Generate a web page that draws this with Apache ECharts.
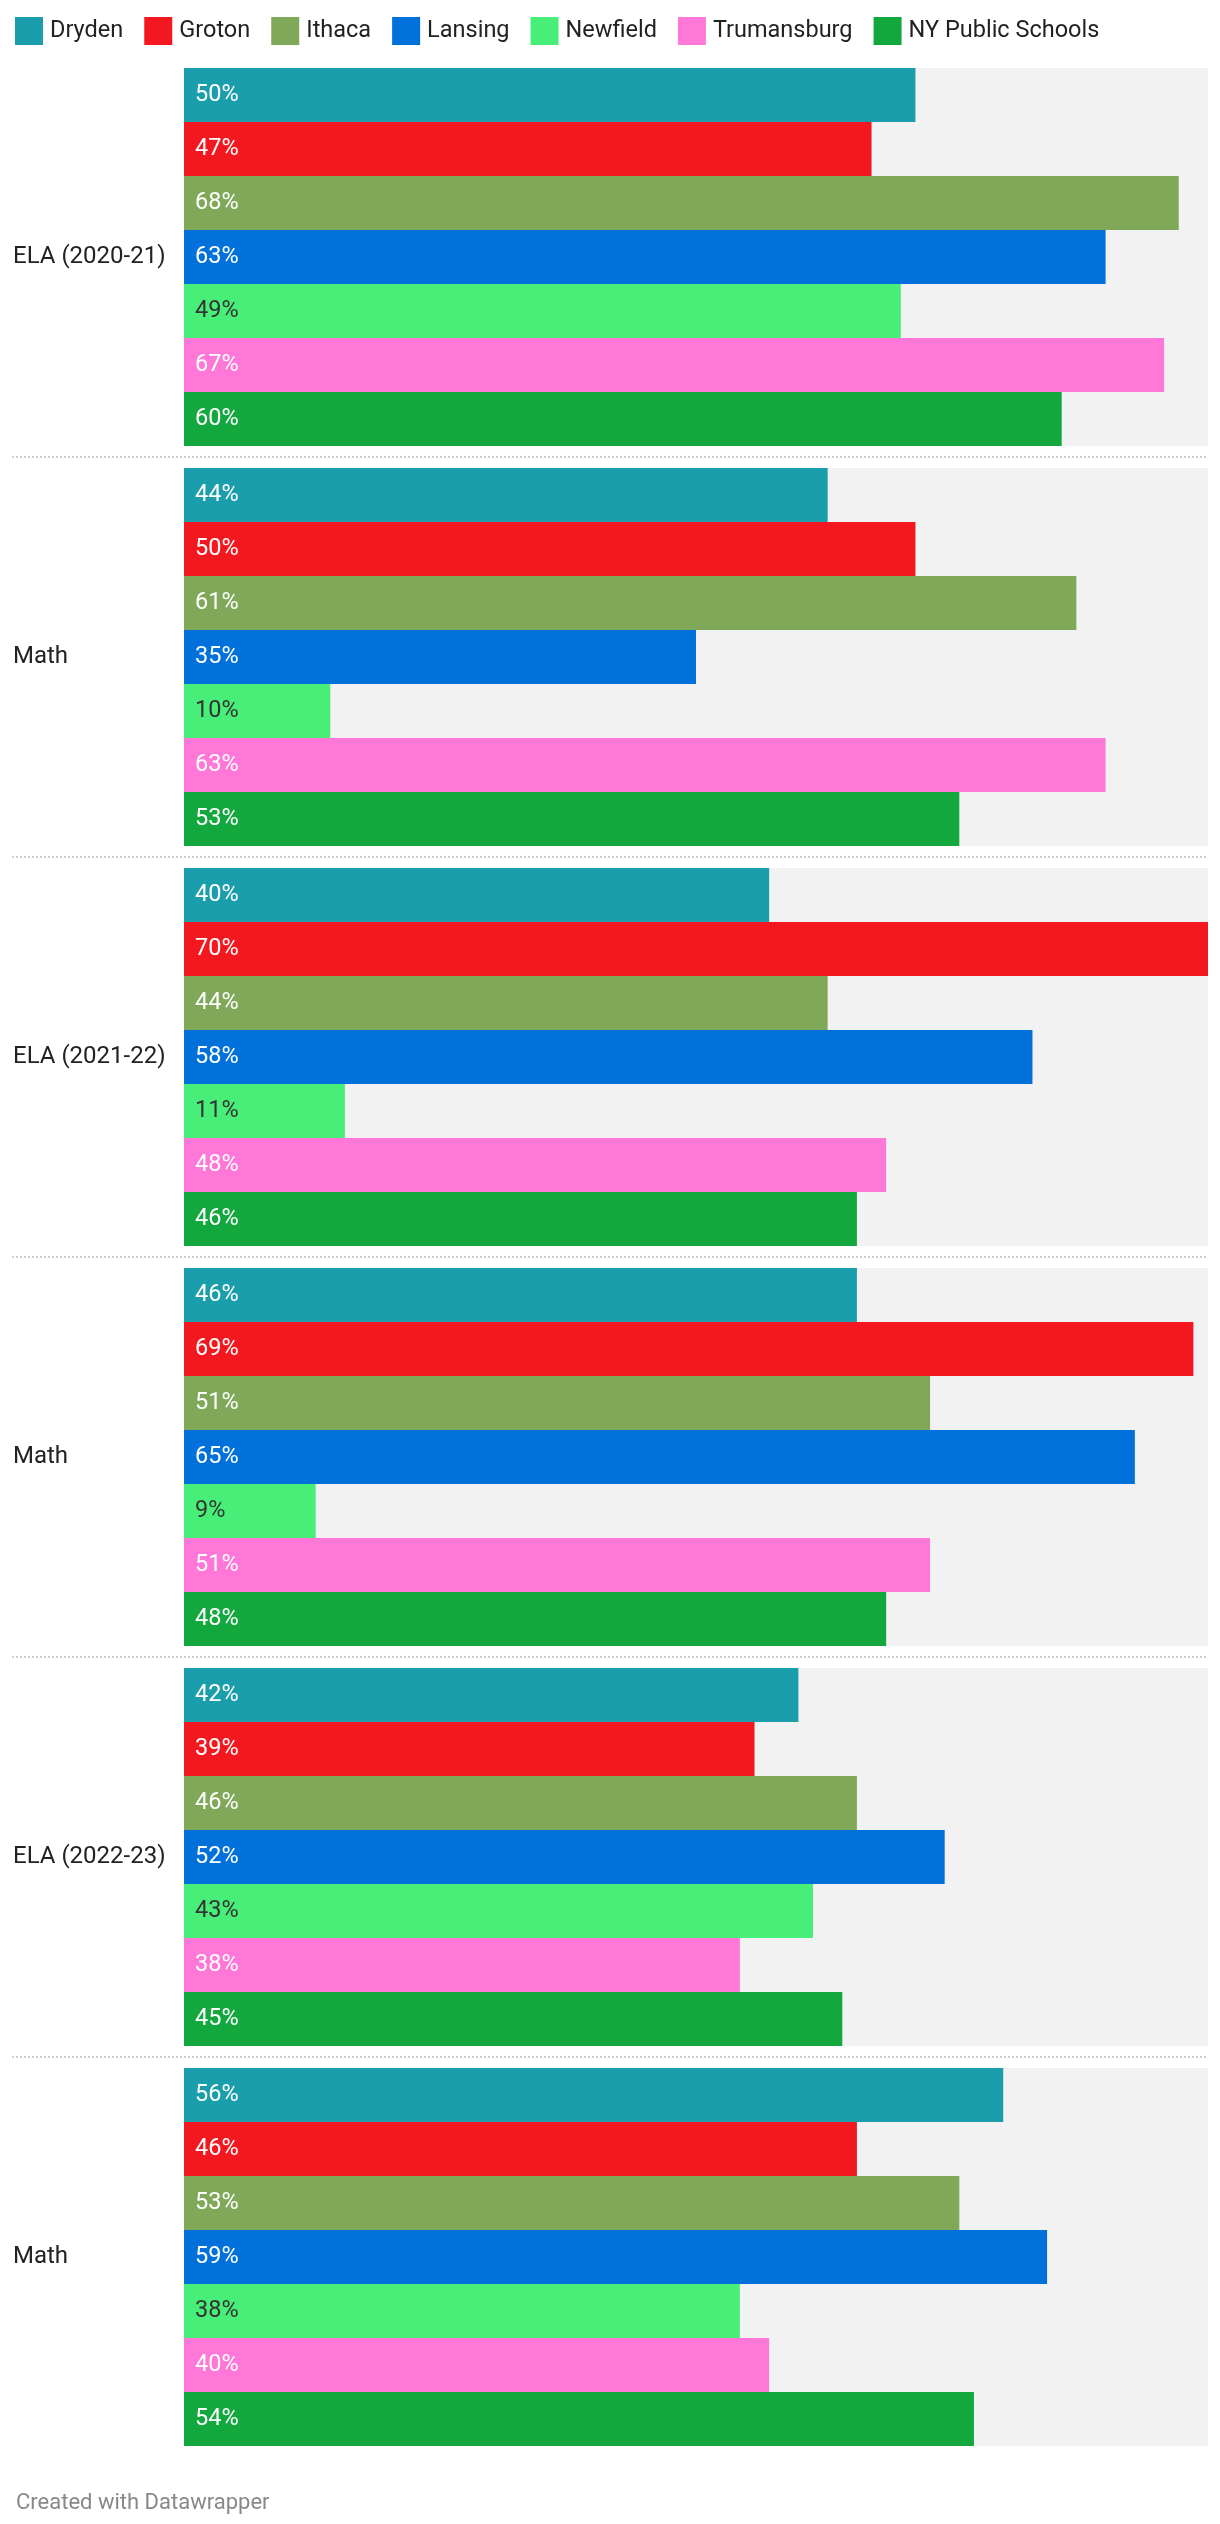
<!DOCTYPE html>
<html>
<head>
<meta charset="utf-8">
<script src="https://cdn.jsdelivr.net/npm/echarts@6/dist/echarts.min.js"></script>
<style>
html,body{margin:0;padding:0;background:#fff;}
#c{width:1220px;height:2524px;}
</style>
</head>
<body>
<div id="c"></div>
<script>
const categories = ["ELA (2020-21)", "Math", "ELA (2021-22)", "Math", "ELA (2022-23)", "Math"];
const seriesNames = ["Dryden", "Groton", "Ithaca", "Lansing", "Newfield", "Trumansburg", "NY Public Schools"];
const dryden = [50, 44, 40, 46, 42, 56];
const groton = [47, 50, 70, 69, 39, 46];
const ithaca = [68, 61, 44, 51, 46, 53];
const lansing = [63, 35, 58, 65, 52, 59];
const newfield = [49, 10, 11, 9, 43, 38];
const trumansburg = [67, 63, 48, 51, 38, 40];
const nyPublic = [60, 53, 46, 48, 45, 54];
const xMax = 70;

const values = [dryden, groton, ithaca, lansing, newfield, trumansburg, nyPublic];
const colors = ["#1a9eab", "#f31820", "#7fa958", "#0071da", "#47ef78", "#ff78d8", "#13a83e"];
const labelColors = ["#fff", "#fff", "#fff", "#fff", "#333", "#fff", "#fff"];
const FONT = "Roboto, 'Noto Sans', sans-serif";

const chart = echarts.init(document.getElementById('c'), null, {renderer: 'canvas'});
const series = seriesNames.map((name, i) => ({
  name: name,
  type: 'bar',
  data: values[i],
  barGap: '0%',
  barCategoryGap: '5.5%',
  itemStyle: {color: colors[i]},
  showBackground: true,
  backgroundStyle: {color: '#f2f2f2'},
  label: {
    show: true,
    position: 'insideLeft',
    distance: 11,
    formatter: '{c}%',
    color: labelColors[i],
    fontFamily: FONT,
    fontSize: 23.5
  },
  emphasis: {disabled: true},
  animation: false
}));

chart.setOption({
  animation: false,
  legend: {
    data: seriesNames,
    left: 10,
    top: 12,
    itemWidth: 28,
    itemHeight: 28,
    itemGap: 21,
    icon: 'rect',
    textStyle: {fontFamily: FONT, fontSize: 23.5, color: '#222', padding: [0, 0, 0, 2]},
    selectedMode: false
  },
  title: {
    text: 'Created with Datawrapper',
    left: 11,
    top: 2487,
    textStyle: {fontFamily: FONT, fontSize: 22, fontWeight: 'normal', color: '#888888'}
  },
  grid: {left: 184, right: 12, top: 57, height: 2400, containLabel: false},
  xAxis: {
    type: 'value',
    min: 0,
    max: xMax,
    show: false
  },
  yAxis: {
    type: 'category',
    data: categories,
    inverse: true,
    axisLine: {show: false},
    axisTick: {show: false},
    splitLine: {show: false},
    axisLabel: {
      align: 'left',
      margin: 171,
      fontFamily: FONT,
      fontSize: 24,
      color: '#222'
    }
  },
  series: series
});

// dotted separators between category groups, positioned via the axis scale
const graphics = [];
const xEnd = chart.convertToPixel({xAxisIndex: 0}, xMax);
for (let i = 1; i < categories.length; i++) {
  const y0 = chart.convertToPixel({yAxisIndex: 0}, i - 1);
  const y1 = chart.convertToPixel({yAxisIndex: 0}, i);
  const y = Math.round((y0 + y1) / 2);
  graphics.push({
    type: 'line',
    shape: {x1: 12, y1: y, x2: xEnd, y2: y},
    style: {stroke: '#cfcfcf', lineWidth: 2, lineDash: [2, 2]},
    silent: true
  });
}
chart.setOption({graphic: graphics});
</script>
</body>
</html>
